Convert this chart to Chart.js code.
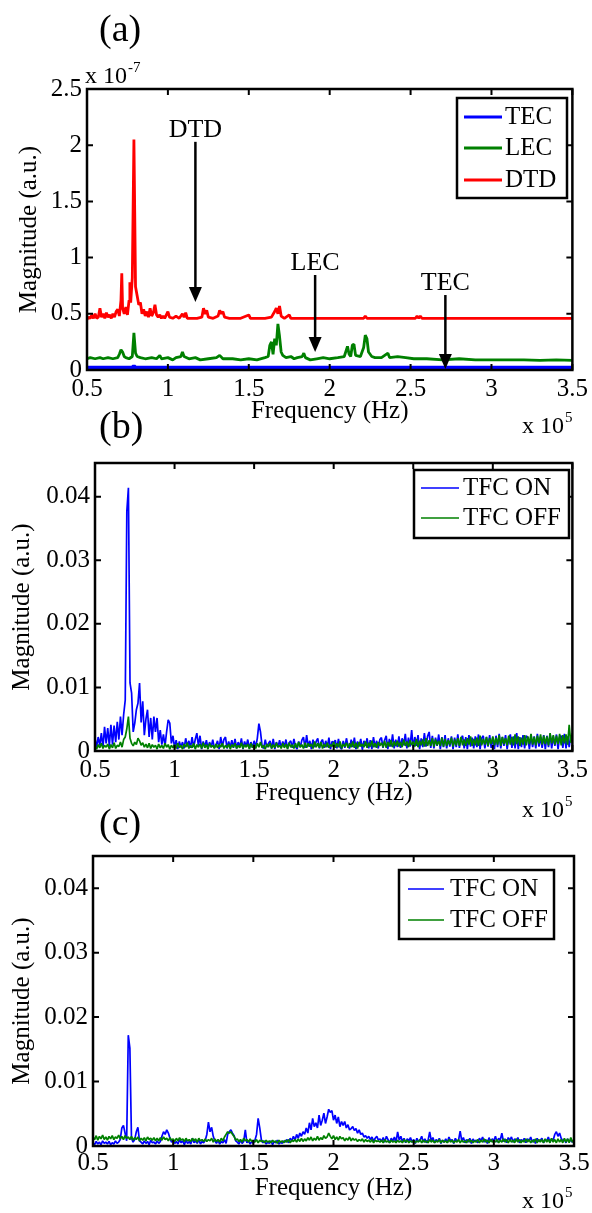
<!DOCTYPE html>
<html>
<head>
<meta charset="utf-8">
<script src="https://cdn.jsdelivr.net/npm/chart.js@4.4.0/dist/chart.umd.min.js"></script>
<style>
    html, body { margin: 0; padding: 0; background: #fff; }
    #wrap { position: relative; width: 592px; height: 1213px; }
    #wrap canvas { position: absolute; left: 0; top: 0; }
</style>
</head>
<body>
<div id="wrap">
    <canvas id="chartA" width="592" height="1213"></canvas>
    <canvas id="chartB" width="592" height="1213"></canvas>
    <canvas id="chartC" width="592" height="1213"></canvas>
</div>
<script>
// Tick labels (x axis in units of 1e5 Hz)
const xTicks = [0.5, 1, 1.5, 2, 2.5, 3, 3.5];
const xTickLabels = ['0.5', '1', '1.5', '2', '2.5', '3', '3.5'];
const yTicksA = [0, 0.5, 1, 1.5, 2, 2.5];
const yTickLabelsA = ['0', '0.5', '1', '1.5', '2', '2.5'];
const yTicksBC = [0, 0.01, 0.02, 0.03, 0.04];
const yTickLabelsBC = ['0', '0.01', '0.02', '0.03', '0.04'];

// Panel (a): magnitude in units of 1e-7
const dtdFreq = [0.50,0.51,0.52,0.53,0.54,0.55,0.56,0.57,0.58,0.59,0.60,0.61,0.62,0.63,0.64,0.65,0.66,0.67,0.68,0.69,
    0.70,0.71,0.715,0.72,0.73,0.74,0.75,0.76,0.765,0.77,0.78,0.79,0.795,0.80,0.81,0.82,0.83,0.84,0.85,0.86,
    0.87,0.88,0.89,0.90,0.91,0.92,0.93,0.94,0.95,0.96,0.97,0.98,1.00,1.01,1.03,1.05,1.07,1.09,1.10,1.11,
    1.12,1.15,1.18,1.21,1.22,1.23,1.24,1.25,1.28,1.31,1.32,1.33,1.34,1.35,1.38,1.45,1.50,1.51,1.60,1.64,
    1.66,1.67,1.68,1.69,1.70,1.72,1.75,1.76,2.00,2.21,2.22,2.23,2.53,2.54,2.55,2.56,2.57,3.50];
const dtdMag = [0.45,0.47,0.46,0.49,0.46,0.50,0.46,0.47,0.55,0.47,0.50,0.46,0.51,0.47,0.49,0.46,0.50,0.47,0.52,0.54,
    0.48,0.62,0.86,0.55,0.50,0.56,0.49,0.62,0.78,0.60,0.82,2.05,1.40,0.74,0.66,0.58,0.60,0.50,0.54,0.48,
    0.52,0.47,0.55,0.48,0.51,0.58,0.49,0.47,0.49,0.46,0.48,0.46,0.52,0.47,0.46,0.48,0.46,0.50,0.47,0.51,
    0.46,0.46,0.46,0.47,0.55,0.50,0.53,0.47,0.46,0.48,0.53,0.50,0.52,0.47,0.46,0.46,0.49,0.46,0.46,0.47,
    0.52,0.55,0.50,0.57,0.48,0.46,0.49,0.46,0.46,0.46,0.48,0.46,0.46,0.48,0.46,0.48,0.46,0.46];

const lecFreq = [0.50,0.52,0.55,0.58,0.60,0.63,0.66,0.69,0.70,0.71,0.72,0.73,0.74,0.76,0.78,0.79,0.80,0.81,0.83,0.86,
    0.90,0.93,0.95,0.96,1.00,1.03,1.05,1.08,1.09,1.10,1.13,1.17,1.20,1.25,1.30,1.32,1.34,1.40,1.45,1.50,
    1.55,1.60,1.62,1.63,1.64,1.65,1.66,1.67,1.68,1.69,1.70,1.71,1.73,1.76,1.78,1.80,1.83,1.84,1.85,1.88,
    1.92,1.96,2.00,2.05,2.09,2.11,2.12,2.13,2.14,2.15,2.16,2.19,2.21,2.22,2.23,2.24,2.26,2.28,2.32,2.34,
    2.36,2.37,2.42,2.47,2.52,2.60,2.70,2.80,2.90,3.00,3.10,3.20,3.30,3.40,3.50];
const lecMag = [0.10,0.11,0.10,0.11,0.10,0.11,0.10,0.11,0.14,0.18,0.16,0.12,0.11,0.10,0.12,0.33,0.15,0.12,0.11,0.10,
    0.11,0.10,0.13,0.10,0.11,0.09,0.11,0.12,0.16,0.12,0.10,0.11,0.09,0.10,0.11,0.13,0.10,0.10,0.09,0.10,
    0.09,0.11,0.12,0.22,0.25,0.14,0.28,0.22,0.41,0.30,0.16,0.13,0.11,0.12,0.10,0.11,0.12,0.15,0.11,0.09,
    0.10,0.11,0.10,0.11,0.12,0.21,0.14,0.12,0.22,0.23,0.13,0.12,0.20,0.31,0.28,0.16,0.12,0.11,0.11,0.13,
    0.15,0.11,0.12,0.11,0.10,0.10,0.09,0.10,0.09,0.09,0.09,0.09,0.085,0.09,0.085];

const tecFreq = [0.50, 0.78, 0.79, 0.80, 3.50];
const tecMag = [0.02, 0.02, 0.035, 0.02, 0.02];

// Panels (b) and (c): shared frequency bins (1e5 Hz), magnitude in units of 1e-4
const freqBC = [
    0.50,0.51,0.52,0.53,0.54,0.55,0.56,0.57,0.58,0.59,
    0.60,0.61,0.62,0.63,0.64,0.65,0.66,0.67,0.68,0.69,
    0.70,0.71,0.72,0.73,0.74,0.75,0.76,0.77,0.78,0.79,
    0.80,0.81,0.82,0.83,0.84,0.85,0.86,0.87,0.88,0.89,
    0.90,0.91,0.92,0.93,0.94,0.95,0.96,0.97,0.98,0.99,
    1.00,1.01,1.02,1.03,1.04,1.05,1.06,1.07,1.08,1.09,
    1.10,1.11,1.12,1.13,1.14,1.15,1.16,1.17,1.18,1.19,
    1.20,1.21,1.22,1.23,1.24,1.25,1.26,1.27,1.28,1.29,
    1.30,1.31,1.32,1.33,1.34,1.35,1.36,1.37,1.38,1.39,
    1.40,1.41,1.42,1.43,1.44,1.45,1.46,1.47,1.48,1.49,
    1.50,1.51,1.52,1.53,1.54,1.55,1.56,1.57,1.58,1.59,
    1.60,1.61,1.62,1.63,1.64,1.65,1.66,1.67,1.68,1.69,
    1.70,1.71,1.72,1.73,1.74,1.75,1.76,1.77,1.78,1.79,
    1.80,1.81,1.82,1.83,1.84,1.85,1.86,1.87,1.88,1.89,
    1.90,1.91,1.92,1.93,1.94,1.95,1.96,1.97,1.98,1.99,
    2.00,2.01,2.02,2.03,2.04,2.05,2.06,2.07,2.08,2.09,
    2.10,2.11,2.12,2.13,2.14,2.15,2.16,2.17,2.18,2.19,
    2.20,2.21,2.22,2.23,2.24,2.25,2.26,2.27,2.28,2.29,
    2.30,2.31,2.32,2.33,2.34,2.35,2.36,2.37,2.38,2.39,
    2.40,2.41,2.42,2.43,2.44,2.45,2.46,2.47,2.48,2.49,
    2.50,2.51,2.52,2.53,2.54,2.55,2.56,2.57,2.58,2.59,
    2.60,2.61,2.62,2.63,2.64,2.65,2.66,2.67,2.68,2.69,
    2.70,2.71,2.72,2.73,2.74,2.75,2.76,2.77,2.78,2.79,
    2.80,2.81,2.82,2.83,2.84,2.85,2.86,2.87,2.88,2.89,
    2.90,2.91,2.92,2.93,2.94,2.95,2.96,2.97,2.98,2.99,
    3.00,3.01,3.02,3.03,3.04,3.05,3.06,3.07,3.08,3.09,
    3.10,3.11,3.12,3.13,3.14,3.15,3.16,3.17,3.18,3.19,
    3.20,3.21,3.22,3.23,3.24,3.25,3.26,3.27,3.28,3.29,
    3.30,3.31,3.32,3.33,3.34,3.35,3.36,3.37,3.38,3.39,
    3.40,3.41,3.42,3.43,3.44,3.45,3.46,3.47,3.48,3.49,
    3.50];

const tfcOnB = [
    20,6,22,9,28,5,38,12,36,8,
    41,10,40,14,46,18,54,25,57,80,
    377,414,107,91,30,44,65,75,107,45,
    78,25,50,65,22,52,18,54,30,52,
    14,33,10,26,8,30,49,44,12,24,
    5,17,3,15,6,14,4,20,7,16,
    5,22,6,18,28,8,24,3,15,6,
    17,4,14,6,18,5,9,16,3,22,
    7,18,22,4,15,6,17,5,19,4,
    14,6,20,3,15,7,18,4,14,5,
    16,6,20,43,30,8,4,18,6,12,
    16,4,19,3,14,6,17,5,15,7,
    18,4,13,16,5,19,7,3,15,6,
    17,22,5,25,7,16,3,18,6,15,
    20,4,14,18,5,16,6,21,3,15,
    13,17,4,19,6,3,16,5,20,8,
    4,18,6,21,3,15,7,19,2,16,
    8,20,4,17,3,22,6,16,4,18,
    21,5,17,24,3,19,7,26,4,18,
    6,23,5,20,9,27,4,21,7,33,
    5,22,8,25,3,20,6,28,7,23,
    30,5,24,4,21,8,26,3,22,6,
    25,4,20,7,23,3,21,6,26,5,
    19,24,4,22,3,25,7,21,4,23,
    6,26,3,20,24,4,22,7,25,5,
    21,3,24,6,27,4,22,8,25,3,
    20,26,5,23,4,28,3,22,6,25,
    4,24,21,3,26,6,23,4,27,7,
    22,5,25,3,24,6,27,4,23,8,
    26,3,22,24,5,27,4,23,6,25,
    21];

const tfcOffB = [
    8,3,10,5,12,4,9,6,11,3,
    10,5,13,4,9,7,14,6,18,22,
    35,54,20,12,8,14,10,20,16,9,
    13,6,11,5,12,4,10,6,9,3,
    11,5,9,4,12,6,10,3,9,5,
    10,4,12,5,9,3,11,6,13,4,
    9,5,12,3,10,6,11,4,13,5,
    10,3,12,6,9,4,11,5,10,6,
    12,4,9,5,11,3,10,6,12,4,
    9,5,13,4,10,6,11,3,12,5,
    10,4,12,6,14,5,9,3,11,6,
    12,4,10,5,13,6,9,4,12,5,
    11,3,13,6,10,4,12,5,14,6,
    10,4,13,5,12,7,11,4,15,6,
    12,5,14,4,11,6,13,5,10,7,
    14,5,12,6,15,4,11,7,13,5,
    12,6,15,5,13,4,14,7,11,6,
    15,5,13,7,16,6,12,5,14,8,
    13,6,16,5,14,7,17,6,15,8,
    16,7,14,6,18,8,15,6,17,9,
    15,7,19,6,16,9,18,7,20,8,
    17,8,20,7,18,9,16,8,21,7,
    19,8,17,10,21,7,18,9,20,8,
    22,9,18,8,20,10,23,8,19,9,
    21,8,24,9,19,10,22,8,20,11,
    23,9,21,10,25,8,22,11,20,9,
    24,10,22,9,26,11,23,8,21,10,
    25,9,23,11,27,10,22,9,24,12,
    26,10,24,11,23,9,28,12,25,10,
    24,11,27,9,25,12,26,10,41,13,
    28];

const tfcOnC = [
    5,2,7,3,6,2,8,4,6,3,
    7,2,5,3,8,4,6,10,28,32,
    20,8,172,152,12,6,10,22,29,8,
    6,3,8,4,7,2,9,5,6,3,
    8,4,7,15,22,18,25,20,12,6,
    9,4,7,3,10,5,8,2,9,4,
    7,3,12,5,8,4,10,3,7,5,
    9,18,37,22,29,15,8,4,9,3,
    7,5,10,4,18,22,25,20,16,8,
    6,3,9,4,7,25,5,8,3,7,
    4,9,18,43,28,10,5,8,3,6,
    4,8,2,7,5,9,3,6,4,8,
    6,10,5,12,8,15,9,18,12,20,
    15,22,18,28,20,36,25,43,30,36,
    28,48,32,40,51,35,45,57,52,55,
    40,48,35,45,30,38,32,38,28,33,
    25,27,30,24,27,20,25,18,20,14,
    16,12,15,10,14,8,12,15,9,11,
    7,13,6,15,10,5,12,8,14,6,
    22,9,15,7,12,5,11,8,13,6,
    10,4,12,7,9,15,6,11,5,9,
    22,8,13,5,10,7,12,4,9,6,
    11,5,14,8,10,4,12,7,9,23,
    8,13,5,10,6,12,4,11,7,9,
    5,12,8,14,6,10,4,13,7,11,
    8,15,6,12,9,20,7,11,5,13,
    9,14,6,11,8,13,5,10,7,12,
    5,11,8,14,6,10,4,12,7,9,
    12,5,10,8,14,6,11,9,18,22,
    15,20,12,8,10,5,11,7,9,6,
    10];

const tfcOffC = [
    14,10,16,9,15,11,17,10,14,9,
    15,11,16,10,14,12,17,11,15,10,
    16,12,14,10,15,9,13,10,14,8,
    12,9,13,8,14,10,12,9,13,8,
    12,8,13,9,14,10,12,8,13,9,
    11,7,12,8,13,9,11,7,12,8,
    10,7,12,8,11,6,12,8,10,7,
    11,7,10,8,12,6,11,7,10,6,
    12,8,14,18,22,20,22,18,15,9,
    11,7,10,6,12,8,10,6,11,7,
    9,6,10,5,9,7,8,5,9,6,
    8,5,9,6,8,4,9,6,8,5,
    9,6,10,5,9,7,10,6,11,7,
    12,7,11,8,13,9,14,8,12,9,
    15,9,13,10,16,12,14,20,15,11,
    16,10,14,9,15,11,13,8,12,9,
    14,8,12,9,11,7,10,8,11,6,
    10,7,9,6,10,5,9,7,8,6,
    9,5,10,6,8,5,9,6,8,5,
    9,6,8,5,10,6,9,5,8,6,
    9,5,8,6,10,5,9,6,8,5,
    10,6,9,5,8,6,10,5,9,6,
    8,5,10,6,9,5,8,6,10,5,
    9,6,8,5,10,6,9,5,8,6,
    10,5,9,6,11,6,9,5,10,6,
    9,6,10,5,9,6,11,6,10,5,
    10,6,9,5,11,6,10,5,9,6,
    11,6,10,5,9,6,11,5,10,6,
    10,5,11,6,10,5,12,6,10,5,
    11,6,10,5,12,6,11,5,13,6,
    10];

// Arrow annotations in panel (a), in data units
const arrowsA = [
    { text: 'DTD', x: 1.17, top: 2.03, tip: 0.605, label: 2.135 },
    { text: 'LEC', x: 1.91, top: 0.845, tip: 0.16, label: 0.95 },
    { text: 'TEC', x: 2.715, top: 0.667, tip: 0.01, label: 0.774 }
];

const BLUE = '#0000ff', GREEN = '#008000', RED = '#ff0000';
const SERIF = '"Liberation Serif", "Times New Roman", serif';

Chart.defaults.font.family = SERIF;
Chart.defaults.font.size = 25;
Chart.defaults.color = '#000';

function pairs(xs, ys, k) {
    return xs.map((x, i) => ({ x: x, y: ys[i] * k }));
}

// box around the plot area with inward ticks on all sides
const frameTicks = {
    id: 'frameTicks',
    afterDatasetsDraw(chart) {
        const { ctx, chartArea: a, scales: { x, y } } = chart;
        ctx.save();
        ctx.strokeStyle = '#000';
        ctx.lineWidth = 2;
        ctx.beginPath();
        x.ticks.forEach(t => {
            const px = x.getPixelForValue(t.value);
            ctx.moveTo(px, a.bottom); ctx.lineTo(px, a.bottom - 6);
            ctx.moveTo(px, a.top); ctx.lineTo(px, a.top + 6);
        });
        y.ticks.forEach(t => {
            const py = y.getPixelForValue(t.value);
            ctx.moveTo(a.left, py); ctx.lineTo(a.left + 6, py);
            ctx.moveTo(a.right, py); ctx.lineTo(a.right - 6, py);
        });
        ctx.stroke();
        ctx.lineWidth = 2.5;
        ctx.strokeRect(a.left, a.top, a.right - a.left, a.bottom - a.top);
        ctx.restore();
    }
};

// legend box, panel letter and axis multipliers
const panelExtras = {
    id: 'panelExtras',
    afterDraw(chart, args, o) {
        const ctx = chart.ctx;
        ctx.save();
        // legend
        const [bx, by, bw, bh] = o.box;
        ctx.fillStyle = '#fff';
        ctx.fillRect(bx, by, bw, bh);
        ctx.lineWidth = 2.5;
        ctx.strokeStyle = '#000';
        ctx.strokeRect(bx, by, bw, bh);
        ctx.font = '25px ' + SERIF;
        ctx.textBaseline = 'middle';
        chart.data.datasets.forEach((ds, i) => {
            const ly = o.rows[i];
            ctx.strokeStyle = ds.borderColor;
            ctx.lineWidth = o.legendLine;
            ctx.beginPath();
            ctx.moveTo(o.lineX[0], ly);
            ctx.lineTo(o.lineX[1], ly);
            ctx.stroke();
            ctx.fillStyle = '#000';
            ctx.fillText(ds.label, o.textX, ly);
        });
        // panel letter
        ctx.textBaseline = 'alphabetic';
        ctx.font = '38px ' + SERIF;
        ctx.fillText(o.letter[0], o.letter[1], o.letter[2]);
        // multipliers "x 10^n"
        o.mult.forEach(m => {
            ctx.font = '24px ' + SERIF;
            ctx.fillText('x 10', m[1], m[2]);
            const w = ctx.measureText('x 10').width;
            ctx.font = '15px ' + SERIF;
            ctx.fillText(m[0], m[1] + w + 1, m[2] - 11);
        });
        ctx.restore();
    }
};

// arrows with labels for panel (a)
const arrowNotes = {
    id: 'arrowNotes',
    afterDatasetsDraw(chart, args, o) {
        if (!o.items) return;
        const { ctx, scales: { x, y } } = chart;
        ctx.save();
        ctx.fillStyle = '#000';
        ctx.strokeStyle = '#000';
        ctx.font = '26px ' + SERIF;
        ctx.textAlign = 'center';
        ctx.textBaseline = 'middle';
        o.items.forEach(a => {
            const px = x.getPixelForValue(a.x);
            const pTop = y.getPixelForValue(a.top);
            const pTip = y.getPixelForValue(a.tip);
            ctx.lineWidth = 2.5;
            ctx.beginPath();
            ctx.moveTo(px, pTop);
            ctx.lineTo(px, pTip - 12);
            ctx.stroke();
            ctx.beginPath();
            ctx.moveTo(px - 6.5, pTip - 15);
            ctx.lineTo(px + 6.5, pTip - 15);
            ctx.lineTo(px, pTip);
            ctx.closePath();
            ctx.fill();
            ctx.fillText(a.text, px, y.getPixelForValue(a.label));
        });
        ctx.restore();
    }
};

function makePanel(id, datasets, p) {
    return new Chart(document.getElementById(id), {
        type: 'line',
        data: { datasets: datasets },
        plugins: [frameTicks, arrowNotes, panelExtras],
        options: {
            responsive: false,
            animation: false,
            devicePixelRatio: 1,
            events: [],
            layout: { padding: { top: p.top, right: p.right, bottom: p.bottom, left: 0 } },
            elements: {
                point: { radius: 0 },
                line: { tension: 0, borderJoinStyle: 'bevel' }
            },
            scales: {
                x: {
                    type: 'linear',
                    min: 0.5,
                    max: 3.5,
                    afterFit: s => { s.height = p.xHeight; },
                    afterBuildTicks: s => { s.ticks = xTicks.map(v => ({ value: v })); },
                    grid: { display: false, drawTicks: false },
                    border: { display: false },
                    ticks: {
                        autoSkip: false,
                        maxRotation: 0,
                        padding: p.xPad,
                        callback: (v, i) => xTickLabels[i]
                    },
                    title: { display: true, text: 'Frequency (Hz)', padding: 0 }
                },
                y: {
                    type: 'linear',
                    min: 0,
                    max: p.yMax,
                    afterFit: s => { s.width = p.yWidth; },
                    afterBuildTicks: s => { s.ticks = p.yTicks.map(v => ({ value: v })); },
                    grid: { display: false, drawTicks: false },
                    border: { display: false },
                    ticks: {
                        autoSkip: false,
                        padding: 5,
                        callback: (v, i) => p.yLabels[i]
                    },
                    title: { display: true, text: 'Magnitude (a.u.)', padding: { top: p.yTitlePad, bottom: 0 } }
                }
            },
            plugins: {
                legend: { display: false },
                tooltip: { enabled: false },
                arrowNotes: { items: p.arrows },
                panelExtras: p.extras
            }
        }
    });
}

// (a)
makePanel('chartA', [
    { label: 'TEC', data: pairs(tecFreq, tecMag, 1), borderColor: BLUE, borderWidth: 4, order: 0 },
    { label: 'LEC', data: pairs(lecFreq, lecMag, 1), borderColor: GREEN, borderWidth: 2.8, order: 1 },
    { label: 'DTD', data: pairs(dtdFreq, dtdMag, 1), borderColor: RED, borderWidth: 2.8, order: 2 }
], {
    top: 89, right: 16, bottom: 787, xHeight: 56, yWidth: 87, xPad: 4, yTitlePad: 14,
    yMax: 2.5, yTicks: yTicksA, yLabels: yTickLabelsA, arrows: arrowsA,
    extras: {
        box: [457, 98, 110, 100], rows: [117, 148, 180], lineX: [464, 502], textX: 505, legendLine: 3,
        letter: ['(a)', 99, 41],
        mult: [['-7', 85, 83], ['5', 522, 433]]
    }
});

// (b)
makePanel('chartB', [
    { label: 'TFC ON', data: pairs(freqBC, tfcOnB, 1e-4), borderColor: BLUE, borderWidth: 1.7, order: 1 },
    { label: 'TFC OFF', data: pairs(freqBC, tfcOffB, 1e-4), borderColor: GREEN, borderWidth: 1.7, order: 0 }
], {
    top: 463, right: 17, bottom: 405, xHeight: 57, yWidth: 95, xPad: 4, yTitlePad: 7,
    yMax: 0.0453, yTicks: yTicksBC, yLabels: yTickLabelsBC, arrows: null,
    extras: {
        box: [414, 470, 155, 68], rows: [488, 518], lineX: [421, 459], textX: 463, legendLine: 1.5,
        letter: ['(b)', 99, 438],
        mult: [['5', 522, 817]]
    }
});

// (c)
makePanel('chartC', [
    { label: 'TFC ON', data: pairs(freqBC, tfcOnC, 1e-4), borderColor: BLUE, borderWidth: 1.7, order: 1 },
    { label: 'TFC OFF', data: pairs(freqBC, tfcOffC, 1e-4), borderColor: GREEN, borderWidth: 1.7, order: 0 }
], {
    top: 856, right: 18, bottom: 10, xHeight: 57, yWidth: 93, xPad: 2, yTitlePad: 7,
    yMax: 0.045, yTicks: yTicksBC, yLabels: yTickLabelsBC, arrows: null,
    extras: {
        box: [399, 870, 155, 69], rows: [889, 920], lineX: [408, 444], textX: 450, legendLine: 1.5,
        letter: ['(c)', 99, 835],
        mult: [['5', 522, 1208]]
    }
});
</script>
</body>
</html>
